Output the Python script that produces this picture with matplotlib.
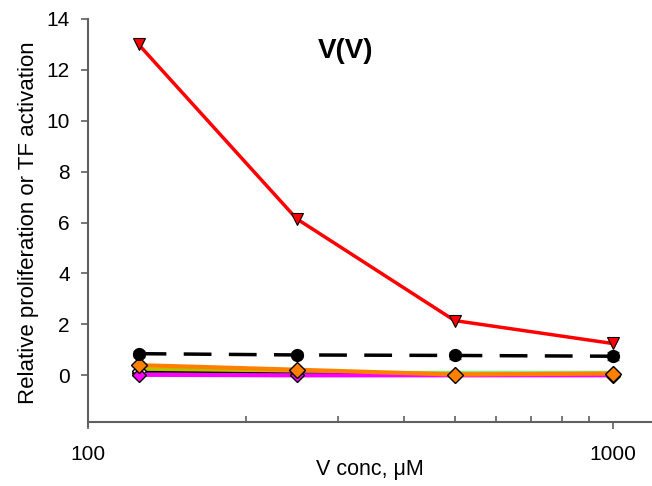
import matplotlib.pyplot as plt
import numpy as np
from matplotlib.ticker import FixedLocator, NullFormatter

plt.rcParams['font.family'] = ['Liberation Sans', 'DejaVu Sans']

conc = [125, 250, 500, 1000]

# relative proliferation / TF activation for each readout
red_vals = [13.0, 6.15, 2.15, 1.25]
black_vals = [0.85, 0.80, 0.78, 0.75]
black_err = [0.12, 0.10, 0.15, 0.15]
green_vals = [0.15, 0.08, 0.10, 0.10]
olive_vals = [0.25, 0.12, 0.05, 0.05]
purple_vals = [0.10, 0.05, 0.00, -0.03]
white_vals = [0.15, 0.08, 0.02, 0.02]
magenta_vals = [0.02, 0.00, 0.00, 0.00]
orange_vals = [0.40, 0.22, 0.03, 0.07]

fig = plt.figure(figsize=(6.52, 4.86), dpi=100)
ax = fig.add_axes([0.1345, 0.123, 0.8655, 0.838])

ax.plot(conc, green_vals, color='#90e890', lw=3, zorder=2)
ax.plot(conc, olive_vals, color='#b8c000', lw=3, zorder=2)
ax.plot(conc, purple_vals, color='#4b1060', lw=1, marker='D', ms=7,
        mfc='#4b1060', mec='black', zorder=2)
ax.plot(conc, white_vals, color='black', lw=1, marker='D', ms=7,
        mfc='white', mec='black', zorder=2)
ax.plot(conc, magenta_vals, color='#ff00ff', lw=3, marker='D', ms=7,
        mfc='#ff00ff', mec='black', zorder=3)
ax.plot(conc, orange_vals, color='#ff8000', lw=3, marker='D', ms=8,
        mfc='#ff8000', mec='black', zorder=4)
ax.errorbar(conc, black_vals, yerr=black_err, color='black', lw=2.5,
            ls=(0, (8, 5)), marker='o', ms=8.5, capsize=4, elinewidth=1,
            ecolor='#555555', zorder=5)
ax.plot(conc, red_vals, color='red', lw=2.5, marker='v', ms=9,
        mfc='red', mec='black', mew=0.8, zorder=6)

ax.set_xscale('log')
ax.set_xlim(100, 1188)
ax.set_ylim(-2, 14)
ax.set_yticks(np.arange(0, 15, 2))

ax.xaxis.set_major_locator(FixedLocator([100, 1000]))
ax.xaxis.set_major_formatter(plt.FixedFormatter(['100', '1000']))
ax.xaxis.set_minor_locator(FixedLocator([200, 300, 400, 500, 600, 700, 800, 900]))
ax.xaxis.set_minor_formatter(NullFormatter())

for side in ['top', 'right']:
    ax.spines[side].set_visible(False)
for side in ['left', 'bottom']:
    ax.spines[side].set_color('#606060')
    ax.spines[side].set_linewidth(1.5)
ax.spines['bottom'].set_position(('data', -1.82))

ax.tick_params(axis='y', direction='out', length=5, width=1.2, color='#606060',
               labelsize=15, pad=8)
ax.tick_params(axis='x', which='major', direction='out', length=5, width=1.2,
               color='#606060', labelsize=15, pad=12)
ax.tick_params(axis='x', which='minor', direction='in', length=4, width=1.2,
               color='#606060')

ax.set_xlabel('V conc, μM', fontsize=15.5, labelpad=-4)
ax.set_ylabel('Relative proliferation or TF activation', fontsize=16, labelpad=5)
ax.text(310, 12.74, 'V(V)', fontsize=20, fontweight='bold', ha='center', va='center')

fig.savefig('out.png', dpi=100)
